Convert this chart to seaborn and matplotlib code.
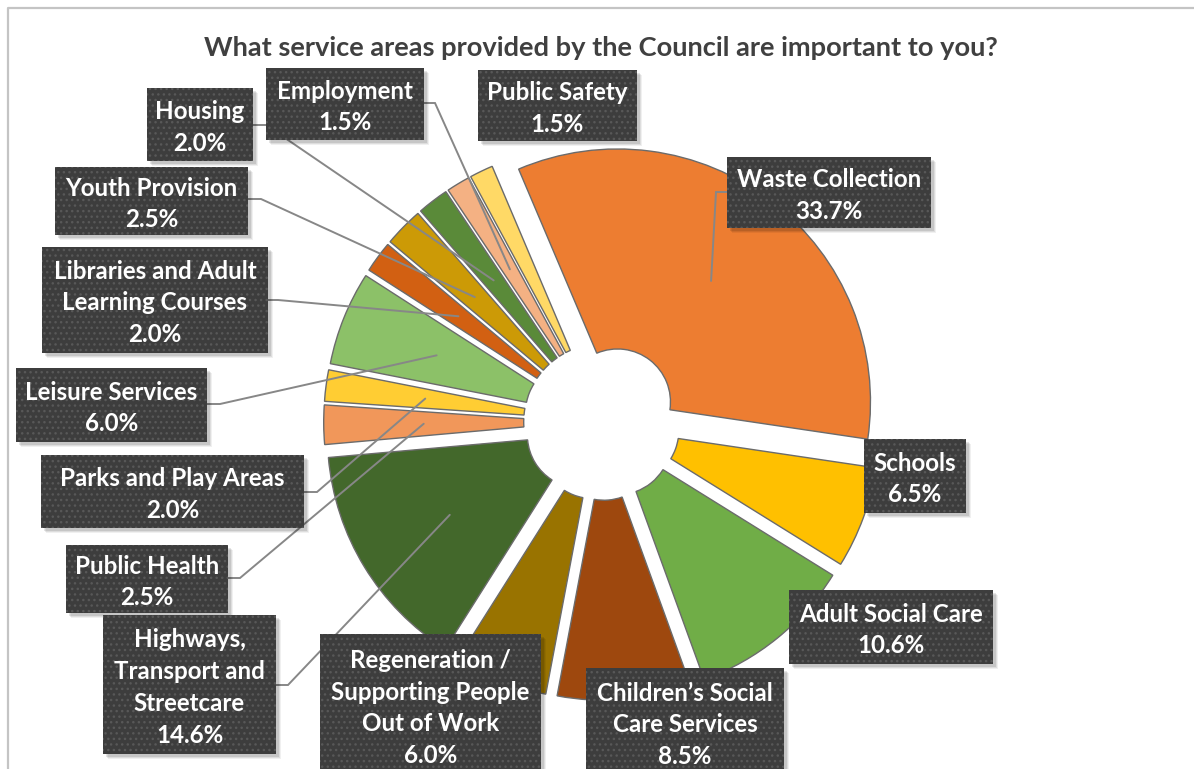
import matplotlib
matplotlib.use("Agg")
import matplotlib.pyplot as plt
import seaborn as sns
from matplotlib.patches import Rectangle
import numpy as np

# ---- data -------------------------------------------------------------
services = [
    "Waste Collection",
    "Schools",
    "Adult Social Care",
    "Children\u2019s Social\nCare Services",
    "Regeneration /\nSupporting People\nOut of Work",
    "Highways,\nTransport and\nStreetcare",
    "Public Health",
    "Parks and Play Areas",
    "Leisure Services",
    "Libraries and Adult\nLearning Courses",
    "Youth Provision",
    "Housing",
    "Employment",
    "Public Safety",
]
shares = [33.7, 6.5, 10.6, 8.5, 6.0, 14.6, 2.5, 2.0, 6.0, 2.0, 2.5, 2.0, 1.5, 1.5]
slice_colors = [
    "#ED7D31", "#FFC000", "#70AD47", "#9E480E", "#997300", "#43682B",
    "#F1975A", "#FFCD33", "#8CC168", "#D26012", "#CC9A06", "#5A8A39",
    "#F4B183", "#FFD966",
]
title = "What service areas provided by the Council are important to you?"

# ---- layout (pixel positions of the callout boxes) --------------------
W, H = 1194, 769
CX, CY, R = 602, 422, 253          # pie centre and outer radius in px

# box: (left, top, right, bottom); leader: (start_x, start_y, elbow_x) or None
callouts = {
    "Waste Collection": ((727, 157, 931, 228), (727, 192, 716)),
    "Schools": ((864, 439, 966, 513), None),
    "Adult Social Care": ((789, 590, 993, 664), None),
    "Children\u2019s Social\nCare Services": ((586, 668, 784, 776), None),
    "Regeneration /\nSupporting People\nOut of Work": ((320, 634, 541, 776), None),
    "Highways,\nTransport and\nStreetcare": ((103, 615, 276, 754), (276, 685, 288)),
    "Public Health": ((66, 545, 228, 613), (228, 578, 240)),
    "Parks and Play Areas": ((41, 455, 304, 528), (304, 492, 317)),
    "Leisure Services": ((16, 368, 207, 442), (207, 404, 220)),
    "Libraries and Adult\nLearning Courses": ((42, 247, 268, 353), (268, 300, 278)),
    "Youth Provision": ((55, 167, 248, 235), (248, 199, 261)),
    "Housing": ((147, 88, 253, 161), (253, 125, 266)),
    "Employment": ((266, 68, 424, 140), (424, 103, 435)),
    "Public Safety": ((478, 70, 637, 141), None),
}


def px(x, y):
    """Image pixel -> data coordinates (unit = pie radius)."""
    return (x - CX) / R, (CY - y) / R


sns.set_theme(style="white")
plt.rcParams["font.family"] = ["Lato", "DejaVu Sans"]
palette = sns.color_palette(slice_colors)

fig = plt.figure(figsize=(W / 100, H / 100), dpi=100)
ax = fig.add_axes([0, 0, 1, 1])

wedges, _ = ax.pie(
    shares,
    colors=palette,
    startangle=113,
    counterclock=False,
    radius=1.0,
    center=(0, 0),
    explode=[0.1] * len(shares),
    wedgeprops=dict(width=200 / R, edgecolor="#6b6b6b", linewidth=1.0),
)
for w in wedges:
    w.set_zorder(2)

x0, y0 = px(0, H)
x1, y1 = px(W, 0)
ax.set_aspect("auto")
ax.set_xlim(x0, x1)
ax.set_ylim(y0, y1)
ax.axis("off")

# chart frame (left and top edges)
bx, by = px(8, 8)
_, bb = px(8, H + 5)
rx, _ = px(W + 5, 8)
ax.plot([bx, bx, rx], [bb, by, by], color="#c4c4c4", lw=1.6, zorder=1,
        solid_capstyle="butt", clip_on=False)

ax.text(*px(601, 48), title, ha="center", va="center", fontsize=19.6,
        fontweight="bold", color="#404040", zorder=6)

for name, share, w in zip(services, shares, wedges):
    (l, t, r, b), leader = callouts[name]
    # leader line to the middle of the ring along the wedge bisector
    if leader is not None:
        sx, sy, ex = leader
        mid = np.deg2rad(0.5 * (w.theta1 + w.theta2))
        rm = w.r - w.width / 2
        tx = w.center[0] + rm * np.cos(mid)
        ty = w.center[1] + rm * np.sin(mid)
        p0 = px(sx, sy)
        p1 = px(ex, sy)
        ax.plot([p0[0], p1[0], tx], [p0[1], p1[1], ty], color="#878787",
                lw=1.4, zorder=3, solid_joinstyle="miter")
    # soft shadow
    for k, a in ((5, 0.06), (4, 0.08), (3, 0.10)):
        sl, st = px(l + k, t + k)
        sr, sb = px(r + k, b + k)
        ax.add_patch(Rectangle((sl, sb), sr - sl, st - sb, facecolor="black",
                               edgecolor="none", alpha=a, zorder=4))
    ll, tt = px(l, t)
    rr, bbm = px(r, b)
    ax.add_patch(Rectangle((ll, bbm), rr - ll, tt - bbm, facecolor="#3d3d3d",
                           edgecolor="#585858", linewidth=0, hatch="...",
                           zorder=5))
    tcx, tcy = px((l + r) / 2, (t + b) / 2 + 3)
    ax.text(tcx, tcy, f"{name}\n{share:.1f}%",
            ha="center", va="center", multialignment="center",
            fontsize=17.4, fontweight="bold", color="white", linespacing=1.47,
            zorder=6)

fig.savefig("out.png", dpi=100, facecolor="white")
